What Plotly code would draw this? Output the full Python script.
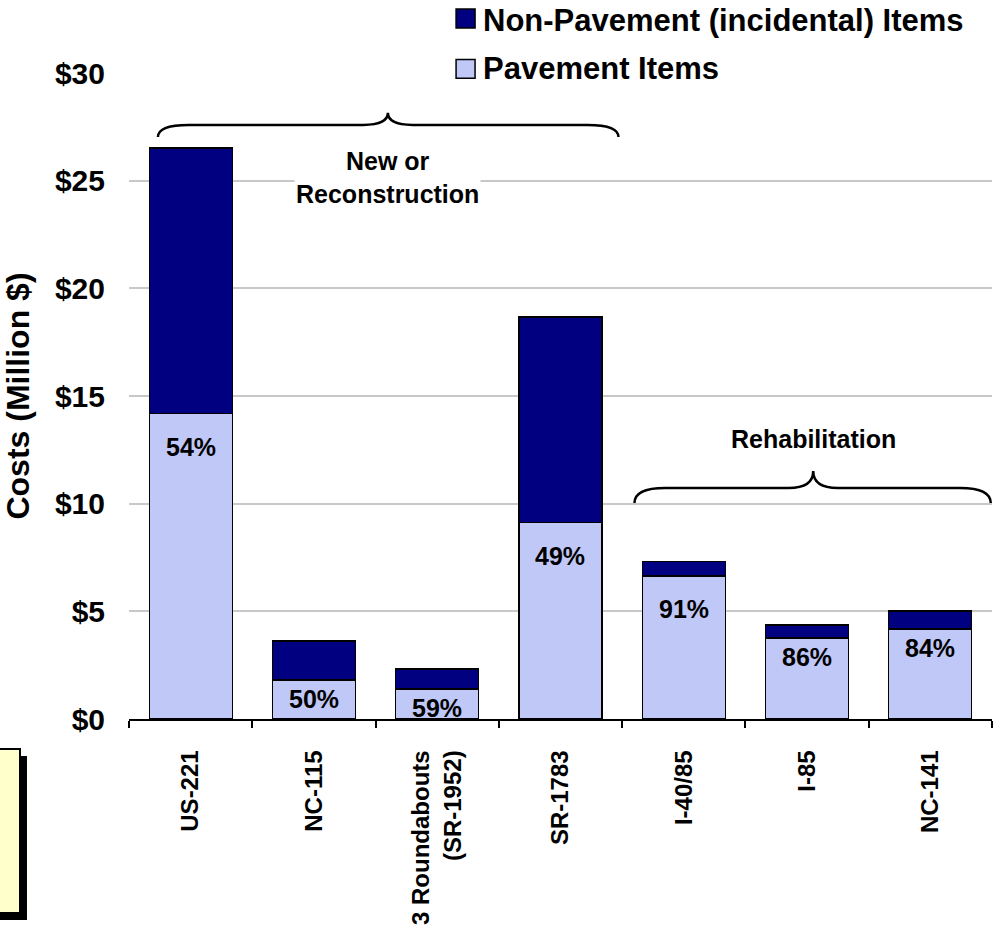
import plotly.graph_objects as go

categories = ["US-221", "NC-115", "3 Roundabouts<br>(SR-1952)", "SR-1783", "I-40/85", "I-85", "NC-141"]
pavement = [14.17, 1.81, 1.39, 9.12, 6.64, 3.76, 4.18]
total = [26.52, 3.62, 2.32, 18.67, 7.32, 4.37, 5.02]
non_pavement = [t - p for t, p in zip(total, pavement)]
pct_labels = ["54%", "50%", "59%", "49%", "91%", "86%", "84%"]

series_names = ["Non-Pavement (incidental) Items", "Pavement Items"]
y_ticks = [0, 5, 10, 15, 20, 25, 30]
y_tick_text = ["$0", "$5", "$10", "$15", "$20", "$25", "$30"]

group_labels = ["New or<br>Reconstruction", "Rehabilitation"]

DARK = "#000080"
LIGHT = "#C0C8F8"
FONT = "Liberation Sans, Arial, sans-serif"

fig = go.Figure()
fig.add_trace(go.Bar(x=categories, y=pavement, name=series_names[1],
                     marker=dict(color=LIGHT, line=dict(color="black", width=1.2)),
                     showlegend=False))
fig.add_trace(go.Bar(x=categories, y=non_pavement, name=series_names[0],
                     marker=dict(color=DARK, line=dict(color="black", width=1.2)),
                     showlegend=False))

# percentage labels inside pavement segments
for i, (c, p, lab) in enumerate(zip(categories, pavement, pct_labels)):
    fig.add_annotation(x=c, y=p, text=lab, showarrow=False, xref="x", yref="y",
                       yanchor="top", yshift=-(17 if p > 5 else 3),
                       font=dict(family=FONT, size=25, color="black", weight="bold"))

shapes = []
# white cover under legend area (legend background)
shapes.append(dict(type="rect", xref="paper", yref="paper", x0=0.314, x1=1.01, y0=0.99, y1=1.12,
                   fillcolor="white", line=dict(width=0), layer="above"))
# legend squares
shapes.append(dict(type="rect", xref="paper", yref="paper", x0=0.379, x1=0.401, y0=1.0697, y1=1.099,
                   fillcolor=DARK, line=dict(color="black", width=1.5), layer="above"))
shapes.append(dict(type="rect", xref="paper", yref="paper", x0=0.379, x1=0.401, y0=0.992, y1=1.021,
                   fillcolor=LIGHT, line=dict(color="black", width=1.5), layer="above"))


def brace(xl, xr, xc, y_end, y_mid, y_tip, dx=0.25, dt=0.2):
    return (f"M {xl},{y_end} Q {xl},{y_mid} {xl+dx},{y_mid} "
            f"L {xc-dt},{y_mid} Q {xc},{y_mid} {xc},{y_tip} "
            f"Q {xc},{y_mid} {xc+dt},{y_mid} L {xr-dx},{y_mid} "
            f"Q {xr},{y_mid} {xr},{y_end}")


shapes.append(dict(type="path", xref="x", yref="y",
                   path=brace(-0.265, 3.47, 1.60, 27.03, 27.59, 28.15),
                   line=dict(color="black", width=2.5), layer="above"))
shapes.append(dict(type="path", xref="x", yref="y",
                   path=brace(3.60, 6.49, 5.05, 10.03, 10.73, 11.52),
                   line=dict(color="black", width=2.5), layer="above"))

# yellow note box at bottom-left (partially cut off)
shapes.append(dict(type="rect", xref="paper", yref="paper", x0=-0.17, x1=-0.1182, y0=-0.311, y1=-0.0573,
                   fillcolor="black", line=dict(width=0), layer="above"))
shapes.append(dict(type="rect", xref="paper", yref="paper", x0=-0.17, x1=-0.1263, y0=-0.3003, y1=-0.0464,
                   fillcolor="#FFFFCC", line=dict(color="black", width=2), layer="above"))

fig.add_annotation(x=0.408, y=1.0815, xref="paper", yref="paper", text=series_names[0],
                   showarrow=False, xanchor="left", yanchor="middle",
                   font=dict(family=FONT, size=31, color="black", weight="bold"))
fig.add_annotation(x=0.408, y=1.0077, xref="paper", yref="paper", text=series_names[1],
                   showarrow=False, xanchor="left", yanchor="middle",
                   font=dict(family=FONT, size=31, color="black", weight="bold"))

fig.add_annotation(x=1.60, y=25.15, xref="x", yref="y", text=group_labels[0], showarrow=False,
                   font=dict(family=FONT, size=25, color="black", weight="bold"),
                   bgcolor="white")
fig.add_annotation(x=5.05, y=13.0, xref="x", yref="y", text=group_labels[1], showarrow=False,
                   font=dict(family=FONT, size=25, color="black", weight="bold"))

fig.update_layout(
    barmode="stack",
    bargap=0.327,
    width=994, height=927,
    margin=dict(l=129, r=2, t=73, b=208),
    paper_bgcolor="white", plot_bgcolor="white",
    shapes=shapes,
    font=dict(family=FONT, color="black"),
    showlegend=False,
)
fig.update_xaxes(type="category", tickson="boundaries", ticks="outside", ticklen=7,
                 tickwidth=1.5, tickcolor="black", showline=True, linecolor="black", linewidth=1.5,
                 tickangle=-90, showgrid=False, ticklabelstandoff=20,
                 tickfont=dict(family=FONT, size=24, color="black", weight="bold"))
fig.update_yaxes(range=[0, 30], tickvals=y_ticks, ticktext=y_tick_text, showgrid=True,
                 gridcolor="#C8C8C8", gridwidth=1.5, zeroline=False, showline=False,
                 ticks="", ticklabelstandoff=23,
                 tickfont=dict(family=FONT, size=30, color="black", weight="bold"),
                 title=dict(text="Costs (Million $)", standoff=24,
                            font=dict(family=FONT, size=32, color="black", weight="bold")))

# remove the default 8px page margin so the figure fills the window exactly
fig.write_html("out.html", config={"displayModeBar": False},
               post_script="document.body.style.margin='0px';")
